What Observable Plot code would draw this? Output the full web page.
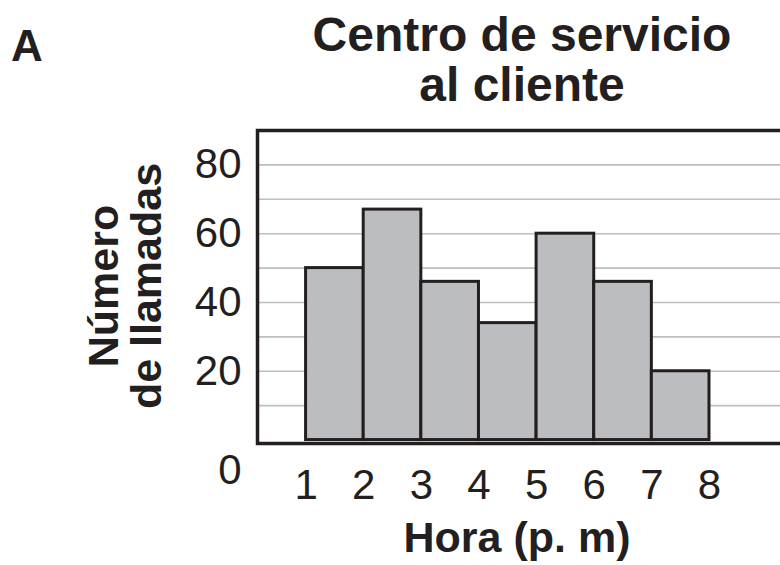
<!DOCTYPE html>
<html>
<head>
<meta charset="utf-8">
<script src="https://cdn.jsdelivr.net/npm/d3@7"></script>
<script src="https://cdn.jsdelivr.net/npm/@observablehq/plot@0.6"></script>
<style>
  html, body { margin: 0; padding: 0; overflow: hidden; background: #fff; width: 780px; height: 565px; }
  #wrap { position: relative; width: 780px; height: 565px; overflow: hidden; font-family: "Liberation Sans", Arial, Helvetica, sans-serif; color: #231f20; }
  #chart { position: absolute; left: 0; top: 0; width: 800px; }
  #chart svg { max-width: none !important; width: 800px; height: 565px; }
  .lbl { position: absolute; font-weight: bold; white-space: nowrap; }
  #letter { left: 11px; top: 23.5px; font-size: 44px; line-height: 44px; }
  .title { left: 522px; transform: translateX(-50%); font-size: 48px; line-height: 50px; text-align: center; }
  #title1 { top: 10.1px; }
  #title2 { top: 60.1px; }
  #xlabel { left: 517px; top: 515.6px; transform: translateX(-50%); font-size: 43px; line-height: 43px; }
  #ylabel { left: 124.5px; top: 286px; transform: translate(-50%, -50%) rotate(-90deg); font-size: 43px; line-height: 43px; text-align: center; }
</style>
</head>
<body>
<div id="wrap">
  <div id="chart"></div>
  <div class="lbl" id="letter">A</div>
  <div class="lbl title" id="title1">Centro de servicio</div>
  <div class="lbl title" id="title2">al cliente</div>
  <div class="lbl" id="xlabel">Hora (p. m)</div>
  <div class="lbl" id="ylabel">Número<br>de llamadas</div>
</div>
<script>
// Data
const hours = [1, 2, 3, 4, 5, 6, 7];
const calls = [50, 67, 46, 34, 60, 46, 20];
const xTicks = [1, 2, 3, 4, 5, 6, 7, 8];
const yTicks = [20, 40, 60, 80];
const gridValues = [10, 20, 30, 40, 50, 60, 70, 80];
const zeroLabel = [0];

const data = hours.map((h, i) => ({hour: h, calls: calls[i]}));
const ink = "#231f20";

const chart = Plot.plot({
  width: 800,
  height: 565,
  marginLeft: 257,
  marginRight: 15,
  marginTop: 130,
  marginBottom: 122,
  style: {fontFamily: "'Liberation Sans', Arial, Helvetica, sans-serif", color: ink, background: "transparent", overflow: "visible", maxWidth: "none"},
  x: {domain: [0.157, 9.319]},
  y: {domain: [-1, 90]},
  marks: [
    Plot.ruleY(gridValues, {stroke: "#bcbec0", strokeWidth: 1.6}),
    Plot.rectY(data, {x1: "hour", x2: d => d.hour + 1, y: "calls", insetLeft: 0, insetRight: 0, fill: "#bcbdc0", stroke: ink, strokeWidth: 3}),
    Plot.frame({stroke: ink, strokeWidth: 3.5}),
    Plot.axisX({ticks: xTicks, tickSize: 0, tickPadding: 26, fontSize: 42, label: null, fill: ink}),
    Plot.axisY({ticks: yTicks, tickSize: 0, tickPadding: 16, fontSize: 42, label: null, fill: ink}),
    Plot.text(zeroLabel, {y: d => d, text: d => String(d), frameAnchor: "left", textAnchor: "end", dx: -16, dy: 30, fontSize: 42, fill: ink})
  ]
});
document.getElementById("chart").appendChild(chart);
</script>
</body>
</html>
